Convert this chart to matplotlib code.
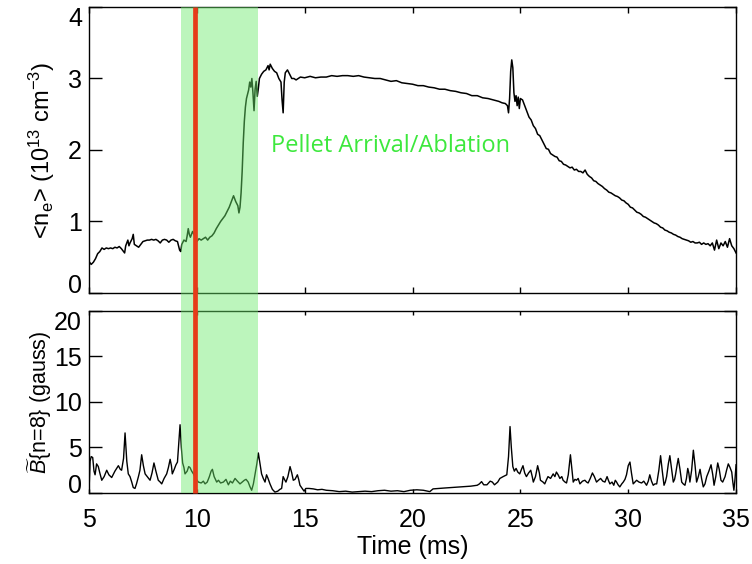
import matplotlib
matplotlib.use("Agg")
import matplotlib.pyplot as plt
from matplotlib.patches import Rectangle
from matplotlib.lines import Line2D
import matplotlib.transforms as mtransforms

plt.rcParams['font.family'] = ['Liberation Sans', 'DejaVu Sans']
plt.rcParams['mathtext.fontset'] = 'custom'
plt.rcParams['mathtext.rm'] = 'Liberation Sans'
plt.rcParams['mathtext.it'] = 'Liberation Sans:italic'
plt.rcParams['mathtext.bf'] = 'Liberation Sans:bold'

# ---------------- data ----------------
ne_t = [5.00, 5.10, 5.20, 5.30, 5.40, 5.50, 5.60, 5.70, 5.80, 5.90, 6.00, 6.10, 6.20, 6.30, 6.40,
        6.50, 6.60, 6.65, 6.70, 6.80, 6.85, 6.90, 7.00, 7.05, 7.10, 7.20, 7.30, 7.40, 7.50, 7.60,
        7.70, 7.80, 7.90, 8.00, 8.10, 8.20, 8.30, 8.40, 8.50, 8.60, 8.70, 8.80, 8.90, 9.00, 9.10,
        9.20, 9.25, 9.30, 9.40, 9.50, 9.55, 9.60, 9.65, 9.70, 9.80, 9.90, 10.00, 10.10, 10.20,
        10.30, 10.40, 10.50, 10.60, 10.70, 10.80, 10.90, 11.00, 11.10, 11.20, 11.30, 11.40, 11.50,
        11.60, 11.70, 11.75, 11.80, 11.90, 11.95, 12.00, 12.05, 12.10, 12.15, 12.20, 12.25, 12.30,
        12.40, 12.45, 12.50, 12.55, 12.60, 12.65, 12.70, 12.75, 12.80, 12.85, 12.90, 13.00, 13.10,
        13.20, 13.30, 13.35, 13.40, 13.50, 13.60, 13.70, 13.80, 13.90, 13.95, 14.00, 14.05, 14.10,
        14.20, 14.30, 14.40, 14.50, 14.60, 14.80, 15.00, 15.25, 15.50, 15.75, 16.00, 16.25, 16.50,
        16.75, 17.00, 17.25, 17.50, 17.75, 18.00, 18.25, 18.50, 18.75, 19.00, 19.25, 19.50, 19.75,
        20.00, 20.25, 20.50, 20.75, 21.00, 21.25, 21.50, 21.75, 22.00, 22.25, 22.50, 22.75, 23.00,
        23.25, 23.50, 23.75, 24.00, 24.15, 24.30,
        24.40, 24.45, 24.50, 24.55, 24.60, 24.65, 24.70, 24.75, 24.80, 24.85, 24.90, 24.95, 25.00,
        25.10, 25.20, 25.30, 25.40, 25.50, 25.60, 25.70, 25.80, 25.90, 26.00, 26.10, 26.20, 26.30,
        26.40, 26.50, 26.60, 26.70, 26.80, 26.90, 27.00, 27.10, 27.20, 27.30, 27.40, 27.50, 27.60,
        27.70, 27.80, 27.90, 28.00, 28.10, 28.20, 28.30, 28.40, 28.50, 28.60, 28.70, 28.80, 28.90,
        29.00, 29.10, 29.20, 29.30, 29.40, 29.50, 29.60, 29.70, 29.80, 29.90, 30.00, 30.10, 30.20,
        30.30, 30.40, 30.50, 30.60, 30.70, 30.80, 30.90, 31.00, 31.10, 31.20, 31.30, 31.40, 31.50,
        31.60, 31.70, 31.80, 31.90, 32.00, 32.10, 32.20, 32.30, 32.40, 32.50, 32.60, 32.70, 32.80,
        32.90, 33.00, 33.10, 33.20, 33.30, 33.40, 33.50, 33.60, 33.70, 33.80, 33.90, 34.00, 34.10,
        34.20, 34.30, 34.40, 34.50, 34.60, 34.70, 34.80, 34.90, 35.00]
ne_v = [0.44, 0.40, 0.43, 0.48, 0.55, 0.58, 0.63, 0.61, 0.63, 0.62, 0.63, 0.62, 0.64, 0.63, 0.65,
        0.62, 0.58, 0.56, 0.66, 0.74, 0.66, 0.70, 0.76, 0.82, 0.68, 0.66, 0.64, 0.68, 0.72, 0.73,
        0.74, 0.74, 0.75, 0.74, 0.75, 0.73, 0.70, 0.74, 0.75, 0.74, 0.71, 0.74, 0.75, 0.73, 0.72,
        0.60, 0.58, 0.68, 0.74, 0.72, 0.80, 0.90, 0.82, 0.78, 0.86, 0.80, 0.72, 0.76, 0.74,
        0.76, 0.78, 0.74, 0.78, 0.80, 0.84, 0.90, 0.95, 1.00, 1.04, 1.08, 1.14, 1.20,
        1.28, 1.36, 1.32, 1.28, 1.22, 1.12, 1.20, 1.40, 1.70, 2.10, 2.40, 2.60, 2.72,
        2.84, 2.95, 2.88, 3.00, 2.80, 2.55, 2.85, 2.96, 2.75, 2.86, 3.00, 3.06, 3.10,
        3.12, 3.18, 3.12, 3.20, 3.14, 3.10, 3.08, 3.00, 2.95, 2.70, 2.52, 2.95, 3.08,
        3.12, 3.06, 3.00, 3.00, 2.98, 3.02, 3.01, 3.03, 3.01, 3.02, 3.02, 3.04, 3.03,
        3.04, 3.04, 3.03, 3.04, 3.02, 3.01, 3.00, 3.00, 2.98, 2.96, 2.97, 2.94, 2.93,
        2.92, 2.90, 2.90, 2.88, 2.87, 2.85, 2.85, 2.83, 2.82, 2.80, 2.79, 2.76, 2.76,
        2.73, 2.72, 2.70, 2.68, 2.66, 2.65,
        2.62, 2.52, 2.72, 3.10, 3.26, 3.15, 2.80, 2.68, 2.76, 2.62, 2.74, 2.58, 2.72,
        2.70, 2.62, 2.54, 2.46, 2.42, 2.34, 2.30, 2.22, 2.20, 2.14, 2.08, 2.02, 2.01,
        1.95, 1.93, 1.91, 1.90, 1.85, 1.84, 1.80, 1.79, 1.77, 1.75, 1.76, 1.72, 1.73,
        1.70, 1.70, 1.68, 1.72, 1.66, 1.63, 1.61, 1.57, 1.56, 1.53, 1.51, 1.49, 1.46,
        1.44, 1.41, 1.40, 1.38, 1.36, 1.35, 1.33, 1.30, 1.29, 1.26, 1.24, 1.20, 1.19,
        1.16, 1.13, 1.12, 1.10, 1.07, 1.06, 1.04, 1.02, 1.00, 0.98, 0.97, 0.95, 0.92,
        0.91, 0.88, 0.87, 0.85, 0.84, 0.82, 0.81, 0.79, 0.78, 0.76, 0.75, 0.74, 0.73,
        0.71, 0.72, 0.70, 0.70, 0.71, 0.68, 0.70, 0.68, 0.69, 0.66, 0.70, 0.60, 0.74,
        0.62, 0.70, 0.66, 0.72, 0.64, 0.76, 0.66, 0.62, 0.56]

b_t = [5.00, 5.05, 5.10, 5.17, 5.23, 5.28, 5.35, 5.43, 5.50, 5.59, 5.70, 5.82, 5.92, 6.05, 6.20,
       6.36, 6.45, 6.51, 6.60, 6.67, 6.75, 6.82, 6.90, 6.98, 7.05, 7.13, 7.20, 7.29, 7.36, 7.44,
       7.52, 7.60, 7.70, 7.83, 7.92, 8.01, 8.10, 8.21, 8.30, 8.37, 8.48, 8.60, 8.68, 8.76, 8.82,
       8.86, 8.95, 9.03, 9.10, 9.16, 9.22, 9.28, 9.34, 9.40, 9.45, 9.55, 9.62, 9.68, 9.76, 9.84,
       9.95, 10.07, 10.20, 10.30, 10.38, 10.48, 10.58, 10.66, 10.72, 10.80, 10.92, 11.00, 11.10,
       11.23, 11.35, 11.46, 11.55, 11.65, 11.77, 11.88, 12.00, 12.10, 12.20, 12.28, 12.38, 12.46,
       12.54, 12.62, 12.70, 12.78, 12.85, 12.92, 13.00, 13.08, 13.16, 13.23, 13.30, 13.39, 13.50,
       13.62, 13.75, 13.85, 13.93, 14.00, 14.06, 14.13, 14.22, 14.32, 14.40, 14.47, 14.55, 14.66,
       14.72, 14.78, 14.88, 14.97, 15.05, 15.20, 15.40, 15.60, 15.80, 16.00, 16.30, 16.60, 16.90,
       17.20, 17.50, 17.80, 18.10, 18.40, 18.70, 19.00, 19.30, 19.60, 19.90, 20.20, 20.50, 20.80,
       20.95, 21.20, 21.50, 21.80, 22.10, 22.40, 22.70, 23.00, 23.10, 23.20, 23.30, 23.45, 23.60,
       23.70, 23.80, 23.95, 24.05, 24.20, 24.37, 24.45, 24.52, 24.58, 24.65, 24.72, 24.80, 24.88,
       24.97, 25.05, 25.12, 25.20, 25.28, 25.38, 25.48, 25.55, 25.60, 25.70, 25.80, 25.88, 25.93,
       26.05, 26.13, 26.20, 26.28, 26.40, 26.52, 26.60, 26.67, 26.75, 26.83, 26.92, 26.98, 27.07,
       27.14, 27.22, 27.32, 27.40, 27.45, 27.53, 27.60, 27.68, 27.76, 27.88, 27.99, 28.07, 28.14,
       28.24, 28.34, 28.43, 28.53, 28.62, 28.72, 28.82, 28.92, 29.02, 29.08, 29.15, 29.25, 29.33,
       29.40, 29.46, 29.53, 29.61, 29.70, 29.77, 29.85, 29.92, 30.00, 30.08, 30.15, 30.23, 30.31,
       30.39, 30.50, 30.62, 30.72, 30.85, 30.93, 31.00, 31.08, 31.16, 31.24, 31.32, 31.42, 31.50,
       31.58, 31.66, 31.72, 31.78, 31.86, 31.93, 32.00, 32.09, 32.15, 32.20, 32.26, 32.32, 32.40,
       32.48, 32.55, 32.63, 32.70, 32.76, 32.81, 32.86, 32.94, 33.02, 33.10, 33.17, 33.25, 33.33,
       33.40, 33.48, 33.56, 33.64, 33.74, 33.84, 33.92, 33.98, 34.06, 34.15, 34.22, 34.30, 34.38,
       34.49, 34.56, 34.64, 34.72, 34.80, 34.85, 34.90, 34.95, 35.00]
b_v = [0.3, 3.5, 4.0, 3.9, 2.4, 2.0, 3.2, 2.9, 2.2, 1.4, 1.8, 2.5, 2.0, 1.7, 2.4,
       3.0, 2.6, 2.5, 3.8, 6.6, 3.5, 2.1, 1.8, 1.2, 0.6, 0.5, 1.0, 1.8, 2.5, 4.2,
       3.0, 2.1, 1.8, 1.4, 2.2, 3.3, 2.4, 1.4, 1.2, 1.0, 1.6, 2.1, 2.8, 3.7, 3.0,
       2.1, 2.6, 3.1, 3.4, 5.5, 7.5, 5.0, 3.3, 2.8, 2.1, 2.4, 2.9, 2.8, 2.4, 2.1,
       1.6, 1.2, 1.1, 1.3, 1.0, 1.2, 1.8, 2.4, 2.6, 1.8, 1.2, 1.4, 1.1,
       1.2, 1.5, 0.9, 1.3, 1.1, 1.6, 1.3, 1.0, 1.2, 1.4, 1.5, 1.2, 0.7,
       0.3, 1.0, 2.1, 3.2, 4.4, 3.3, 2.1, 1.6, 1.2, 2.0, 1.6, 1.0, 0.4,
       0.1, 0.2, 0.4, 0.5, 1.8, 1.5, 1.2, 1.8, 2.9, 2.2, 1.4, 1.5, 2.0,
       1.5, 0.85, 0.5, 0.2, 0.5, 0.5, 0.45, 0.35, 0.4, 0.3, 0.25, 0.15, 0.2,
       0.1, 0.15, 0.2, 0.15, 0.25, 0.3, 0.2, 0.25, 0.15, 0.3, 0.35, 0.3, 0.15,
       0.45, 0.5, 0.55, 0.6, 0.65, 0.7, 0.75, 0.85, 1.0, 1.25, 0.9, 0.9, 1.3,
       1.2, 0.9, 1.2, 1.6, 1.8, 2.0, 4.0, 7.3, 5.0, 2.9, 2.4, 2.7, 2.3,
       2.1, 2.6, 3.0, 2.2, 1.8, 2.2, 2.5, 1.8, 1.2, 1.8, 3.0, 2.2, 1.4,
       1.2, 1.0, 1.4, 1.8, 1.6, 2.1, 1.8, 2.3, 2.0, 1.6, 1.8, 1.4, 1.2,
       1.1, 2.0, 4.2, 2.4, 1.2, 1.5, 1.4, 1.6, 1.0, 1.3, 1.4, 1.2, 1.1,
       1.6, 2.2, 1.8, 1.2, 1.4, 1.6, 1.3, 1.2, 1.8, 1.4, 1.0, 1.2, 0.85,
       1.4, 1.2, 0.9, 0.67, 1.0, 1.2, 1.5, 2.0, 3.0, 3.4, 2.2, 1.0, 1.2,
       1.4, 1.2, 1.1, 1.3, 0.85, 1.3, 2.0, 1.3, 0.85, 1.0, 1.0, 2.5, 4.1,
       2.4, 0.85, 1.2, 1.8, 3.2, 4.1, 2.8, 1.2, 1.5, 2.1, 3.0, 3.8, 2.6,
       1.2, 1.0, 0.85, 1.6, 2.7, 2.2, 1.2, 2.5, 4.7, 3.0, 1.2, 1.8, 2.6,
       1.6, 0.67, 1.0, 1.8, 2.4, 3.1, 2.0, 0.85, 1.8, 3.3, 2.6, 1.4, 1.2,
       1.8, 2.5, 3.2, 2.8, 2.3, 1.2, 0.3, 1.5, 3.1]

band_start, band_end = 9.27, 12.83
marker_time = 9.9
annotation = "Pellet Arrival/Ablation"
annot_t, annot_v = 13.45, 1.97

x_ticks = [5, 10, 15, 20, 25, 30, 35]
ne_ticks = [0, 1, 2, 3, 4]
b_ticks = [0, 5, 10, 15, 20]

# ---------------- figure ----------------
fig = plt.figure(figsize=(7.52, 5.64), dpi=100)
ax1 = fig.add_axes([0.1184, 0.4805, 0.8604, 0.5071])
ax2 = fig.add_axes([0.1184, 0.1259, 0.8604, 0.3227])

TICK_FS = 18
for ax, xlen in ((ax1, 4.3), (ax2, 3.0)):
    ax.set_xlim(5, 35)
    ax.set_xticks(x_ticks)
    ax.tick_params(axis='x', direction='in', top=True, bottom=True, length=xlen,
                   width=1, labelsize=TICK_FS, pad=11)
    ax.tick_params(axis='y', direction='in', left=True, right=True, length=9,
                   width=1, labelsize=TICK_FS, pad=5)
    for s in ax.spines.values():
        s.set_linewidth(1.0)

ax1.plot(ne_t, ne_v, color='black', lw=1.1)
ax1.set_ylim(0, 4)
ax1.set_yticks(ne_ticks)
ax1.tick_params(axis='x', labelbottom=False)
ax1.set_ylabel(r'<n$_\mathrm{e}$> (10$^{13}$ cm$^{-3}$)', fontsize=17, labelpad=8)
ax1.text(annot_t, annot_v, annotation, color='#3DE83D', fontsize=17,
         family=['Open Sans', 'DejaVu Sans'], ha='left', va='baseline')

ax2.plot(b_t, b_v, color='black', lw=1.0)
ax2.set_ylim(0, 20)
ax2.set_yticks(b_ticks)
ax2.set_ylabel(r'$\widetilde{B}${n=8} (gauss)', fontsize=15.5, labelpad=0)
ax2.set_xlabel('Time (ms)', fontsize=18, labelpad=2)

# end tick labels kept inside the axis height (as in the reference)
for ax in (ax1, ax2):
    ticks = ax.yaxis.get_major_ticks()
    ticks[0].label1.set_va('baseline')
    ticks[-1].label1.set_va('top')

# band and marker spanning both panels
p1 = ax1.get_position()
p2 = ax2.get_position()
trans = mtransforms.blended_transform_factory(ax1.transData, fig.transFigure)
band = Rectangle((band_start, p2.y0), band_end - band_start, p1.y1 - p2.y0,
                 transform=trans, facecolor='#6BEB6B', alpha=0.45, edgecolor='none', zorder=5)
fig.add_artist(band)
marker = Line2D([marker_time, marker_time], [p2.y0, p1.y1], transform=trans,
                color='#E63B1A', lw=3.4, zorder=6, solid_capstyle='butt')
fig.add_artist(marker)

fig.savefig('out.png', dpi=100)
